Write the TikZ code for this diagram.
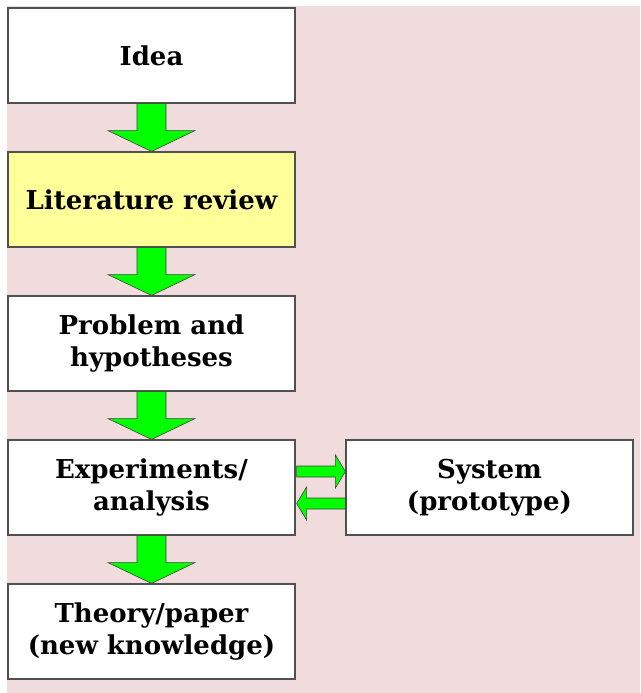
\documentclass[tikz,border=0pt]{standalone}
\usepackage{fontspec}
\setmainfont{DejaVu Serif}
\usetikzlibrary{calc}
\definecolor{bgpink}{RGB}{240,220,220}
\definecolor{lityellow}{RGB}{255,255,153}
\definecolor{arrowgreen}{RGB}{0,255,0}
\definecolor{boxline}{RGB}{80,80,80}
\tikzset{
  box/.style={draw=boxline, line width=1.2pt, fill=white, minimum width=287pt, minimum height=95pt,
    inner sep=0pt, align=center, font=\bfseries\fontsize{26}{32}\selectfont},
  garrow/.style={fill=arrowgreen, draw=black!75, line width=0.6pt, line join=miter}
}
\newcommand\gdownarrow[2]{%
  \draw[garrow] ($(#1.south)+(-14.5,0)$) -- ($(#1.south)+(14.5,0)$) -- ($(#1.south)+(14.5,27)$)
    -- ($(#1.south)+(43.5,27)$) -- (#2.north) -- ($(#1.south)+(-43.5,27)$)
    -- ($(#1.south)+(-14.5,27)$) -- cycle;}
\begin{document}
\begin{tikzpicture}[x=1pt,y=-1pt]
\useasboundingbox (0,0) rectangle (640,693);
\fill[bgpink] (7,6) rectangle (640,693);
\node[box] (idea) at (151.5,55.5) {Idea};
\node[box, fill=lityellow] (lit) at (151.5,199.5) {Literature review};
\node[box] (prob) at (151.5,343.5) {Problem and\\hypotheses};
\node[box] (exp) at (151.5,487.5) {Experiments/\\analysis};
\node[box] (theory) at (151.5,631.5) {Theory/paper\\(new knowledge)};
\node[box] (sys) at (489.5,487.5) {System\\(prototype)};
\gdownarrow{idea}{lit}
\gdownarrow{lit}{prob}
\gdownarrow{prob}{exp}
\gdownarrow{exp}{theory}
\coordinate (r1) at ($(exp.east)+(1,-16)$);
\coordinate (r2) at ($(sys.west)+(0,-16)$);
\coordinate (l1) at ($(sys.west)+(0,16)$);
\coordinate (l2) at ($(exp.east)+(1,16)$);
\draw[garrow] ($(r1)+(0,-5.5)$) -- ($(r2)+(-10,-5.5)$) -- ($(r2)+(-10,-16.5)$) -- (r2)
  -- ($(r2)+(-10,16.5)$) -- ($(r2)+(-10,5.5)$) -- ($(r1)+(0,5.5)$) -- cycle;
\draw[garrow] ($(l1)+(0,-5.5)$) -- ($(l2)+(10,-5.5)$) -- ($(l2)+(10,-16.5)$) -- (l2)
  -- ($(l2)+(10,16.5)$) -- ($(l2)+(10,5.5)$) -- ($(l1)+(0,5.5)$) -- cycle;
\end{tikzpicture}
\end{document}
